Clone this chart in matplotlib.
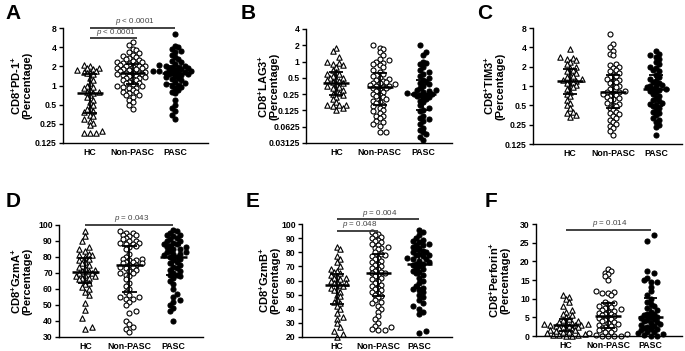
import numpy as np
import matplotlib
matplotlib.use("Agg")
import matplotlib.pyplot as plt

plt.rcParams['font.family'] = ['Liberation Sans', 'DejaVu Sans']
plt.rcParams['mathtext.fontset'] = 'custom'
plt.rcParams['mathtext.rm'] = 'Liberation Sans:bold'
plt.rcParams['mathtext.bf'] = 'Liberation Sans:bold'
plt.rcParams['mathtext.it'] = 'Liberation Sans:italic'
plt.rcParams['mathtext.default'] = 'bf'

groups = ["HC", "Non-PASC", "PASC"]

# ---------------- Panel A: CD8+PD-1+ ----------------
pd1_hc = [2.1, 2.0, 1.9, 1.85, 1.8, 1.75, 1.7, 1.65, 1.6, 1.55, 1.5, 1.3, 1.2, 1.1, 1.0, 0.95,
          0.9, 0.85, 0.8, 0.8, 0.75, 0.7, 0.65, 0.6, 0.55, 0.5, 0.45, 0.42, 0.4, 0.38, 0.35,
          0.33, 0.3, 0.28, 0.26, 0.24, 0.19, 0.18, 0.18, 0.18]
pd1_non = [4.8, 4.3, 3.8, 3.6, 3.4, 3.2, 3.0, 2.9, 2.8, 2.7, 2.6, 2.5, 2.4, 2.35, 2.3, 2.25, 2.2,
           2.15, 2.1, 2.05, 2.0, 2.0, 1.95, 1.9, 1.85, 1.8, 1.8, 1.75, 1.7, 1.65, 1.6, 1.6, 1.55,
           1.5, 1.5, 1.45, 1.4, 1.4, 1.35, 1.3, 1.3, 1.25, 1.2, 1.2, 1.15, 1.1, 1.1, 1.05, 1.0,
           1.0, 0.95, 0.9, 0.9, 0.85, 0.8, 0.8, 0.75, 0.72, 0.7, 0.65, 0.6, 0.55, 0.5, 0.42]
pd1_pasc = [6.5, 4.2, 4.0, 3.8, 3.5, 3.3, 3.0, 2.8, 2.6, 2.4, 2.3, 2.2, 2.1, 2.0, 2.0, 1.9, 1.9,
            1.85, 1.8, 1.8, 1.75, 1.7, 1.7, 1.7, 1.65, 1.6, 1.6, 1.55, 1.5, 1.5, 1.45, 1.4, 1.35,
            1.3, 1.25, 1.2, 1.15, 1.1, 1.05, 1.0, 1.0, 0.95, 0.9, 0.85, 0.8, 0.75, 0.6, 0.5,
            0.45, 0.4, 0.35, 0.3]

# ---------------- Panel B: CD8+LAG3+ ----------------
lag3_hc = [1.8, 1.6, 1.2, 1.0, 0.95, 0.9, 0.85, 0.8, 0.7, 0.65, 0.6, 0.6, 0.55, 0.5, 0.5, 0.48,
           0.45, 0.43, 0.42, 0.4, 0.38, 0.36, 0.34, 0.32, 0.3, 0.28, 0.26, 0.25, 0.24, 0.22, 0.2,
           0.18, 0.16, 0.16, 0.16, 0.15, 0.14, 0.13]
lag3_non = [2.0, 1.8, 1.7, 1.5, 1.3, 1.1, 1.05, 1.0, 0.95, 0.9, 0.85, 0.8, 0.7, 0.65, 0.6, 0.55,
            0.5, 0.48, 0.46, 0.44, 0.42, 0.4, 0.4, 0.38, 0.37, 0.36, 0.35, 0.34, 0.33, 0.32, 0.3,
            0.28, 0.27, 0.25, 0.24, 0.23, 0.22, 0.2, 0.19, 0.18, 0.17, 0.16, 0.15, 0.14, 0.13,
            0.12, 0.11, 0.1, 0.1, 0.09, 0.08, 0.075, 0.07, 0.065, 0.05, 0.05]
lag3_pasc = [2.0, 1.5, 1.3, 1.0, 0.95, 0.9, 0.8, 0.7, 0.65, 0.6, 0.55, 0.5, 0.45, 0.42, 0.4, 0.38,
             0.35, 0.33, 0.3, 0.3, 0.28, 0.27, 0.26, 0.25, 0.25, 0.24, 0.24, 0.23, 0.22, 0.21,
             0.2, 0.19, 0.18, 0.16, 0.14, 0.13, 0.12, 0.1, 0.09, 0.085, 0.08, 0.07, 0.06, 0.055,
             0.05, 0.045, 0.04, 0.035]

# ---------------- Panel C: CD8+TIM3+ ----------------
tim3_hc = [3.8, 2.8, 2.7, 2.6, 2.5, 2.4, 2.2, 2.0, 1.9, 1.8, 1.7, 1.6, 1.5, 1.45, 1.4, 1.3, 1.25,
           1.2, 1.2, 1.15, 1.1, 1.05, 1.0, 0.95, 0.9, 0.8, 0.75, 0.7, 0.6, 0.55, 0.5, 0.45, 0.4,
           0.38, 0.35, 0.33]
tim3_non = [6.5, 4.5, 4.0, 3.5, 3.2, 3.0, 2.2, 2.1, 2.0, 1.9, 1.8, 1.7, 1.6, 1.5, 1.45, 1.4, 1.3,
            1.25, 1.2, 1.15, 1.1, 1.0, 1.0, 0.95, 0.9, 0.85, 0.82, 0.8, 0.78, 0.75, 0.72, 0.7,
            0.68, 0.65, 0.62, 0.6, 0.55, 0.52, 0.5, 0.48, 0.45, 0.42, 0.4, 0.38, 0.36, 0.34,
            0.32, 0.3, 0.28, 0.26, 0.24, 0.22, 0.2, 0.17]
tim3_pasc = [3.5, 3.2, 3.0, 2.8, 2.6, 2.4, 2.2, 2.0, 1.9, 1.8, 1.7, 1.5, 1.4, 1.3, 1.2, 1.15, 1.1,
             1.05, 1.0, 1.0, 0.95, 0.9, 0.9, 0.88, 0.85, 0.8, 0.75, 0.7, 0.65, 0.6, 0.58, 0.55,
             0.52, 0.5, 0.48, 0.45, 0.42, 0.4, 0.38, 0.35, 0.32, 0.3, 0.28, 0.25, 0.23, 0.17]

# ---------------- Panel D: CD8+GzmA+ ----------------
gzma_hc = [96, 93, 90, 86, 85, 84, 82, 81, 81, 80, 79, 78, 77, 76, 75, 74, 73, 72, 71, 71, 70, 70,
           69, 68, 68, 67, 67, 66, 65, 64, 63, 61, 60, 58, 56, 51, 47, 42, 36, 35]
gzma_non = [96, 95, 95, 94, 94, 93, 92, 91, 90, 90, 89, 89, 88, 88, 87, 86, 85, 82, 80, 79, 79,
            78, 78, 77, 77, 76, 76, 75, 75, 74, 74, 73, 72, 71, 70, 70, 69, 68, 66, 64, 62, 60,
            58, 56, 55, 55, 54, 54, 52, 50, 46, 45, 40, 38, 36, 35, 33]
gzma_pasc = [97, 96, 95, 94, 94, 93, 92, 91, 90, 90, 89, 88, 88, 87, 86, 86, 85, 85, 84, 83, 83,
             82, 82, 81, 80, 80, 79, 78, 77, 76, 75, 74, 73, 72, 71, 70, 69, 69, 68, 67, 65, 63,
             60, 57, 55, 53, 52, 50, 48, 46, 40]

# ---------------- Panel E: CD8+GzmB+ ----------------
gzmb_hc = [84, 82, 77, 75, 73, 70, 68, 67, 66, 65, 64, 63, 62, 62, 61, 60, 59, 58, 58, 57, 56, 55,
           54, 53, 52, 50, 49, 47, 45, 44, 42, 40, 37, 34, 33, 30, 27, 24, 22, 20]
gzmb_non = [94, 93, 92, 91, 90, 89, 88, 87, 86, 85, 84, 83, 83, 82, 80, 79, 78, 77, 76, 75, 74,
            73, 72, 71, 70, 69, 68, 67, 66, 65, 65, 64, 63, 62, 61, 60, 58, 57, 56, 55, 54, 53,
            52, 51, 50, 49, 48, 46, 45, 44, 42, 40, 38, 35, 33, 30, 28, 27, 26, 25, 25]
gzmb_pasc = [96, 94, 92, 90, 89, 88, 87, 86, 85, 85, 84, 83, 82, 81, 80, 80, 79, 78, 78, 77, 76,
             75, 75, 74, 73, 72, 72, 71, 70, 69, 68, 67, 66, 65, 64, 62, 60, 58, 56, 55, 54, 53,
             52, 50, 48, 46, 44, 42, 40, 38, 36, 24, 23]

# ---------------- Panel F: CD8+Perforin+ ----------------
perf_hc = [11, 10.5, 10, 9, 8, 7, 6.5, 6, 5.5, 5, 4.5, 4.2, 4, 3.8, 3.5, 3.3, 3.2, 3.1, 3, 3, 2.9,
           2.8, 2.7, 2.5, 2.4, 2.2, 2, 1.8, 1.6, 1.5, 1.3, 1.2, 1, 0.8, 0.6, 0.4, 0.3, 0.2, 0.1, 0]
perf_non = [18, 17.5, 17, 16.5, 16, 15, 12, 11.8, 11.5, 11.5, 11, 9, 8.8, 8.5, 8, 7.8, 7.5, 7.2, 7,
            6.8, 6.5, 6.2, 6, 5.8, 5.5, 5.3, 5, 4.8, 4.5, 4.2, 4, 3.8, 3.5, 3.2, 3, 2.8, 2.5, 2.2,
            2, 1.8, 1.5, 1.2, 1, 0.8, 0.5, 0.3, 0.1, 0, 0, 0]
perf_pasc = [27, 25.5, 17.5, 17, 15.5, 15, 14.5, 14.5, 13, 12, 11, 10, 9, 8.5, 8, 7.5, 7, 6.5, 6,
             5.8, 5.5, 5.2, 5, 4.8, 4.5, 4.2, 4, 3.8, 3.5, 3.2, 3, 2.8, 2.5, 2.2, 2, 1.8, 1.5,
             1.2, 1, 0.8, 0.5, 0.3, 0.1, 0]

panels = [
    dict(letter="A", label="CD8$^{+}$PD-1$^{+}$", data=[pd1_hc, pd1_non, pd1_pasc], log=True,
         ylim=(0.125, 8), ticks=[0.125, 0.25, 0.5, 1, 2, 4, 8],
         ticklabels=["0.125", "0.25", "0.5", "1", "2", "4", "8"],
         rect_px=(63, 28, 208, 143), xlim=(-0.63, 2.77), letter_px=(5, 4), label_x=21,
         sig=[(0, 2, 8.0, "p < 0.0001"), (0, 1.1, 5.5, "p < 0.0001")]),
    dict(letter="B", label="CD8$^{+}$LAG3$^{+}$", data=[lag3_hc, lag3_non, lag3_pasc], log=True,
         ylim=(0.03125, 4), ticks=[0.03125, 0.0625, 0.125, 0.25, 0.5, 1, 2, 4],
         ticklabels=["0.03125", "0.0625", "0.125", "0.25", "0.5", "1", "2", "4"],
         rect_px=(306, 29, 452, 143), xlim=(-0.70, 2.67), letter_px=(241, 4), label_x=268,
         sig=[]),
    dict(letter="C", label="CD8$^{+}$TIM3$^{+}$", data=[tim3_hc, tim3_non, tim3_pasc], log=True,
         ylim=(0.125, 8), ticks=[0.125, 0.25, 0.5, 1, 2, 4, 8],
         ticklabels=["0.125", "0.25", "0.5", "1", "2", "4", "8"],
         rect_px=(533, 28, 682, 144), xlim=(-0.85, 2.6), letter_px=(477, 4), label_x=494,
         sig=[]),
    dict(letter="D", label="CD8$^{+}$GzmA$^{+}$", data=[gzma_hc, gzma_non, gzma_pasc], log=False,
         ylim=(30, 100), ticks=list(range(30, 101, 10)), ticklabels=None,
         rect_px=(59, 225, 203, 337), xlim=(-0.60, 2.67), letter_px=(6, 192), label_x=21,
         sig=[(0, 2, 100.0, "p = 0.043")]),
    dict(letter="E", label="CD8$^{+}$GzmB$^{+}$", data=[gzmb_hc, gzmb_non, gzmb_pasc], log=False,
         ylim=(20, 100), ticks=list(range(20, 101, 10)), ticklabels=None,
         rect_px=(302, 224, 452, 337), xlim=(-0.85, 2.79), letter_px=(246, 192), label_x=269,
         sig=[(0, 2, 103.3, "p = 0.004"), (0, 1, 95.3, "p = 0.048")]),
    dict(letter="F", label="CD8$^{+}$Perforin$^{+}$", data=[perf_hc, perf_non, perf_pasc], log=False,
         ylim=(0, 30), ticks=list(range(0, 31, 5)), ticklabels=None,
         rect_px=(536, 224, 682, 336), xlim=(-0.70, 2.74), letter_px=(485, 192), label_x=499,
         sig=[(0, 2, 28.4, "p = 0.014")]),
]

W, H = 685, 351
fig = plt.figure(figsize=(W / 100, H / 100), dpi=100)

styles = [dict(marker="^", facecolor="white", edgecolor="black", s=15, linewidths=0.8),
          dict(marker="o", facecolor="white", edgecolor="black", s=13, linewidths=0.8),
          dict(marker="o", facecolor="black", edgecolor="black", s=13, linewidths=0.8)]


def hex_row_positions(ax, xc, vals, row_h, sp):
    """GraphPad-like scatter: points binned into pixel rows, rows laid on a staggered grid."""
    vals = np.asarray(vals, dtype=float)
    pts = ax.transData.transform(np.column_stack([np.full(len(vals), xc), vals]))
    ys = pts[:, 1]
    y0 = ys.min()
    bins = np.floor((ys - y0) / row_h + 1e-9).astype(int)
    xs = np.zeros(len(vals))
    flip = 1
    for bval in np.unique(bins):
        idx = np.where(bins == bval)[0]
        idx = idx[np.argsort(ys[idx])]
        n = len(idx)
        if bval % 2 == 0:
            slots = [0.0]
            k = 1
            while len(slots) < n:
                slots += [flip * k * sp, -flip * k * sp]
                k += 1
        else:
            slots = []
            k = 0
            while len(slots) < n:
                slots += [flip * (k + 0.5) * sp, -flip * (k + 0.5) * sp]
                k += 1
        flip = -flip
        slots = slots[:n]
        for j, sx in zip(idx, slots):
            xs[j] = sx
    ppu = ax.transData.transform((1, 0))[0] - ax.transData.transform((0, 0))[0]
    return xc + xs / ppu


for p in panels:
    l, t, r, b = p["rect_px"]
    ax = fig.add_axes([l / W, (H - b) / H, (r - l) / W, (b - t) / H])
    if p["log"]:
        ax.set_yscale("log", base=2)
    ax.set_ylim(*p["ylim"])
    ax.set_xlim(*p["xlim"])
    ax.set_yticks(p["ticks"])
    if p["ticklabels"] is not None:
        ax.set_yticklabels(p["ticklabels"])
    else:
        ax.set_yticklabels([str(v) for v in p["ticks"]])
    ax.minorticks_off()
    ax.set_xticks([0, 1, 2])
    ax.set_xticklabels(groups, fontweight="bold", fontsize=6.3)
    ax.tick_params(axis="x", length=0, pad=3.5)
    ax.tick_params(axis="y", length=3, width=1, labelsize=6.2, pad=1.5)
    for lab in ax.get_yticklabels():
        lab.set_fontweight("bold")
    for s in ["top", "right"]:
        ax.spines[s].set_visible(False)
    for s in ["left", "bottom"]:
        ax.spines[s].set_linewidth(1.0)
    ax.patch.set_alpha(0)

    for gi, vals in enumerate(p["data"]):
        xs = hex_row_positions(ax, gi, vals, 3.0, 6.3)
        ax.scatter(xs, vals, zorder=2, clip_on=False, **styles[gi])
        q1, med, q3 = np.percentile(vals, [25, 50, 75])
        ax.plot([gi - 0.3, gi + 0.3], [med, med], color="black", lw=1.8, zorder=4,
                solid_capstyle="butt")
        ax.plot([gi, gi], [q1, q3], color="black", lw=1.3, zorder=4)
        for q in (q1, q3):
            ax.plot([gi - 0.16, gi + 0.16], [q, q], color="black", lw=1.3, zorder=4,
                    solid_capstyle="butt")

    for (x0, x1, yv, txt) in p["sig"]:
        ax.plot([x0, x1], [yv, yv], color="#333333", lw=1.3, clip_on=False, zorder=5,
                solid_capstyle="butt")
        ptxt = "$\\mathit{p}$" + txt[1:]
        ax.annotate(ptxt, xy=((x0 + x1) / 2 + 0.05, yv), xytext=(0, 0.5),
                    textcoords="offset points", ha="center", va="bottom",
                    fontsize=5.8, color="#444444", annotation_clip=False)

    fig.text(p["label_x"] / W, 1 - ((t + b) / 2) / H, p["label"] + "\n(Percentage)",
             rotation=90, ha="center", va="center", fontsize=8, fontweight="bold",
             linespacing=1.0, multialignment="center")
    fx, fy = p["letter_px"]
    fig.text(fx / W, 1 - fy / H, p["letter"], fontsize=15, fontweight="bold",
             ha="left", va="top")

fig.savefig("out.png", dpi=100)
